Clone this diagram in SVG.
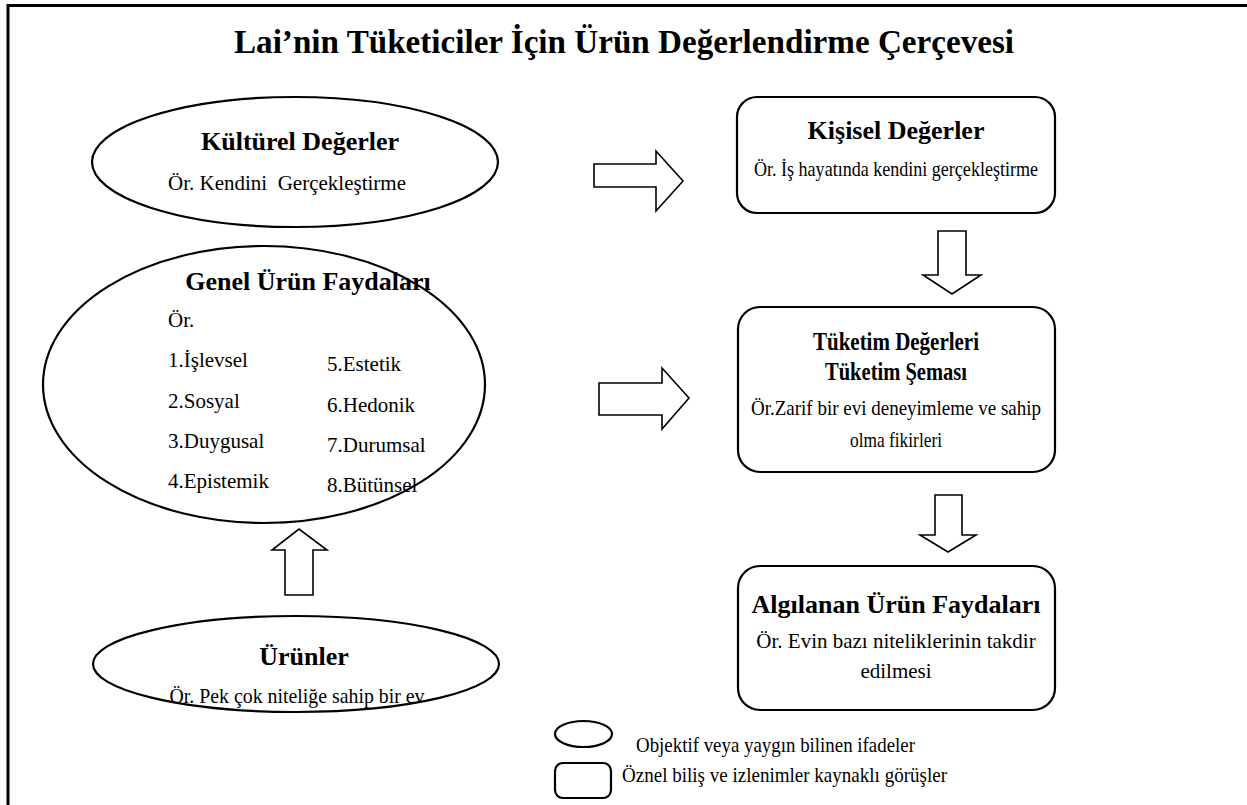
<svg xmlns="http://www.w3.org/2000/svg" width="1247" height="805" viewBox="0 0 1247 805">
<style>
.shape{fill:#fff;stroke:#000;stroke-width:2.2}
.arrow{fill:#fff;stroke:#000;stroke-width:1.6;stroke-linejoin:miter}
text{font-family:'Liberation Serif','Times New Roman','DejaVu Serif',serif;fill:#000}
.h{font-weight:bold;font-size:26px;text-anchor:middle}
.t{font-size:21px}
.c{text-anchor:middle}
.title{font-weight:bold;font-size:33px;text-anchor:middle}
</style>
<rect width="1247" height="805" fill="#fff"/>
<path d="M8 805 V5.5 H1247" fill="none" stroke="#000" stroke-width="3"/>
<text class="title" x="624" y="53" textLength="780" lengthAdjust="spacingAndGlyphs">Lai’nin Tüketiciler İçin Ürün Değerlendirme Çerçevesi</text>

<g id="kulturel">
<ellipse class="shape" cx="295" cy="162" rx="203" ry="65"/>
<text class="h" x="300" y="150">Kültürel Değerler</text>
<text class="t c" x="287" y="190" xml:space="preserve">Ör. Kendini  Gerçekleştirme</text>
</g>

<g id="genel">
<ellipse class="shape" cx="264" cy="384.5" rx="221" ry="138.5"/>
<text class="h" x="308" y="290">Genel Ürün Faydaları</text>
<text class="t" x="168" y="327">Ör.</text>
<text class="t" x="168" y="367">1.İşlevsel</text>
<text class="t" x="168" y="408">2.Sosyal</text>
<text class="t" x="168" y="448">3.Duygusal</text>
<text class="t" x="168" y="488">4.Epistemik</text>
<text class="t" x="327" y="371">5.Estetik</text>
<text class="t" x="327" y="412">6.Hedonik</text>
<text class="t" x="327" y="452">7.Durumsal</text>
<text class="t" x="327" y="492">8.Bütünsel</text>
</g>

<g id="urunler">
<ellipse class="shape" cx="296" cy="664" rx="203" ry="48"/>
<text class="h" x="304" y="665">Ürünler</text>
<text class="t c" x="297" y="703" font-size="20" textLength="255" lengthAdjust="spacingAndGlyphs">Ör. Pek çok niteliğe sahip bir ev</text>
</g>

<g id="kisisel">
<rect class="shape" x="737" y="97" width="318" height="116" rx="20"/>
<text class="h" x="896" y="139">Kişisel Değerler</text>
<text class="t c" x="896" y="176" font-size="19" textLength="284" lengthAdjust="spacingAndGlyphs">Ör. İş hayatında kendini gerçekleştirme</text>
</g>

<g id="tuketim">
<rect class="shape" x="738" y="307" width="317" height="165" rx="22"/>
<text class="h" x="896" y="350" font-size="22" textLength="166" lengthAdjust="spacingAndGlyphs">Tüketim Değerleri</text>
<text class="h" x="896" y="380" font-size="22" textLength="142" lengthAdjust="spacingAndGlyphs">Tüketim Şeması</text>
<text class="t c" x="896" y="415" font-size="19.5" textLength="290" lengthAdjust="spacingAndGlyphs">Ör.Zarif bir evi deneyimleme ve sahip</text>
<text class="t c" x="896" y="447" font-size="19.5" textLength="92" lengthAdjust="spacingAndGlyphs">olma fikirleri</text>
</g>

<g id="algilanan">
<rect class="shape" x="738" y="566" width="317" height="144" rx="22"/>
<text class="h" x="896" y="613">Algılanan Ürün Faydaları</text>
<text class="t c" x="896" y="648">Ör. Evin bazı niteliklerinin takdir</text>
<text class="t c" x="896" y="678">edilmesi</text>
</g>

<g id="connectors">
<polygon class="arrow" points="594,164 656,164 656,151 683,181 656,211 656,187 594,187"/>
<polygon class="arrow" points="599,383 662,383 662,368 689,398 662,429 662,415 599,415"/>
<polygon class="arrow" points="938,231 966,231 966,275 981,275 952,294 923,275 938,275"/>
<polygon class="arrow" points="935,495 962,495 962,535 976,535 948,552 920,535 935,535"/>
<polygon class="arrow" points="285,595 313,595 313,550 327,550 299,529 272,550 285,550"/>
</g>

<g id="legend">
<ellipse class="shape" cx="583.5" cy="734" rx="28.5" ry="13"/>
<text class="t" x="636" y="752" font-size="19.5" textLength="279" lengthAdjust="spacingAndGlyphs">Objektif veya yaygın bilinen ifadeler</text>
<rect class="shape" x="555" y="763" width="56" height="35" rx="8"/>
<text class="t" x="622" y="782" font-size="19.5" textLength="325" lengthAdjust="spacingAndGlyphs">Öznel biliş ve izlenimler kaynaklı görüşler</text>
</g>
</svg>
